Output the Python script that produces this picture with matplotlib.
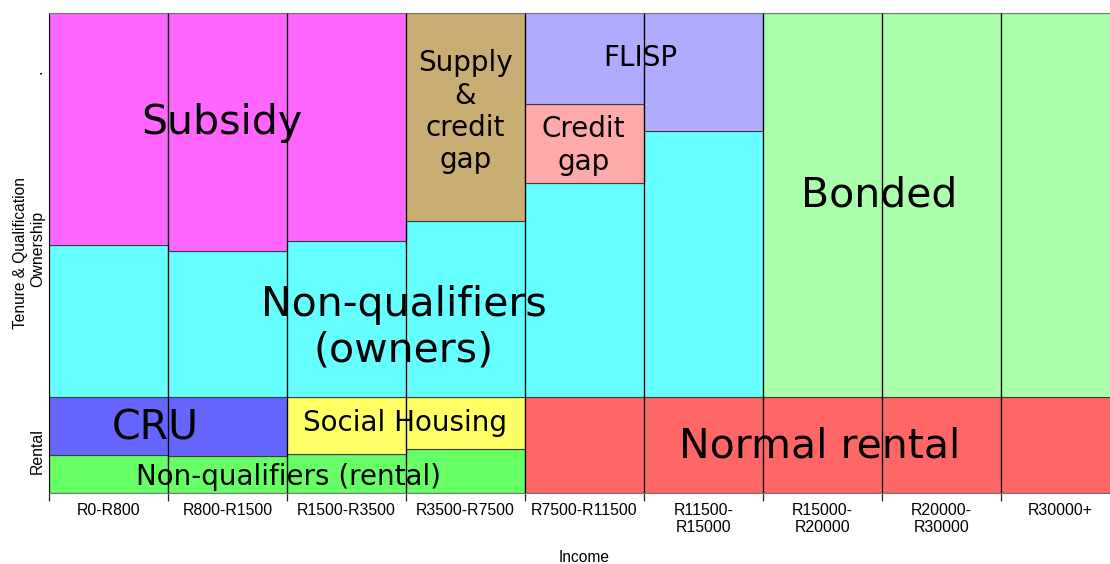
import numpy as np
import matplotlib
matplotlib.use('Agg')
import matplotlib.pyplot as plt

# income bands (columns of the mosaic)
incomes = ['R0-R800', 'R800-R1500', 'R1500-R3500', 'R3500-R7500', 'R7500-R11500',
           'R11500-\nR15000', 'R15000-\nR20000', 'R20000-\nR30000', 'R30000+']

# share of each band (% of column), stacked bottom -> top
nq_rental     = [7.9, 7.7, 8.1, 9.2, 0, 0, 0, 0, 0]
cru           = [12.1, 12.3, 0, 0, 0, 0, 0, 0, 0]
social        = [0, 0, 11.9, 10.8, 0, 0, 0, 0, 0]
normal_rental = [0, 0, 0, 0, 20, 20, 20, 20, 20]
nq_owners     = [31.7, 30.4, 32.5, 36.7, 44.6, 55.4, 0, 0, 0]
subsidy       = [48.3, 49.6, 47.5, 0, 0, 0, 0, 0, 0]
supply_gap    = [0, 0, 0, 43.3, 0, 0, 0, 0, 0]
credit_gap    = [0, 0, 0, 0, 16.5, 0, 0, 0, 0]
flisp         = [0, 0, 0, 0, 18.9, 24.6, 0, 0, 0]
bonded        = [0, 0, 0, 0, 0, 0, 80, 80, 80]

series = [nq_rental, cru, social, normal_rental, nq_owners,
          subsidy, supply_gap, credit_gap, flisp, bonded]
colours = ['#66FF66', '#6666FF', '#FFFF66', '#FF6666', '#66FFFF',
           '#FF66FF', '#C9AE74', '#FFAAAA', '#B0ABFF', '#ABFFAB']

fig = plt.figure(figsize=(11.1, 5.64), dpi=100)
ax = fig.add_axes([49 / 1110, 71 / 564, 1071 / 1110, 480 / 564])

x = np.arange(len(incomes))
bottom = np.zeros(len(incomes))
for vals, col in zip(series, colours):
    vals = np.array(vals, dtype=float)
    keep = vals > 0
    ax.bar(x[keep], vals[keep], width=1.0, bottom=bottom[keep], align='edge',
           color=col, edgecolor='#3c3c3c', linewidth=0.8, zorder=1)
    bottom += vals

ax.set_xlim(0, len(incomes))
ax.set_ylim(0, 100)

# region labels (drawn under the column dividers, like the original)
big, small = 29.5, 20
labels = [
    ('Subsidy', 1.45, 77.0, big),
    ('Non-qualifiers\n(owners)', 2.98, 34.4, big),
    ('CRU', 0.89, 13.5, big),
    ('Non-qualifiers (rental)', 2.01, 3.4, small),
    ('Social Housing', 2.99, 14.6, small),
    ('Supply\n&\ncredit\ngap', 3.5, 79.4, small),
    ('Credit\ngap', 4.49, 72.4, small),
    ('FLISP', 4.97, 90.6, small),
    ('Bonded', 6.98, 62.0, big),
    ('Normal rental', 6.48, 9.6, big),
]
for txt, lx, ly, fs in labels:
    ax.text(lx, ly, txt, ha='center', va='center', fontsize=fs,
            family='DejaVu Sans', linespacing=1.2, zorder=3)

# column dividers on top of everything
ax.vlines(x[1:], 0, 100, color='black', linewidth=0.9, zorder=5)

# x ticks: marks at boundaries, labels at centres
ax.set_xticks(np.arange(len(incomes) + 1))
ax.set_xticklabels([])
ax.tick_params(axis='x', which='major', length=6, width=0.9, color='#222222')
ax.set_xticks(x + 0.5, minor=True)
ax.set_xticklabels(incomes, minor=True, fontsize=11.4, family='Liberation Sans',
                   linespacing=1.1)
ax.tick_params(axis='x', which='minor', length=0, pad=7.5)

ax.set_yticks([8.75, 50.8, 87.7])
ax.set_yticklabels(['Rental', 'Ownership', '.'], rotation=90, va='center',
                   fontsize=11.4, family='Liberation Sans')
ax.tick_params(axis='y', length=0, pad=3)

ax.set_xlabel('Income', fontsize=11.2, family='Liberation Sans', labelpad=11)
ax.set_ylabel('Tenure & Qualification', fontsize=11.2, family='Liberation Sans',
              labelpad=1)

ax.spines['left'].set_color('black')
for s in ['top', 'bottom', 'right']:
    ax.spines[s].set_color('#777777')

fig.savefig('out.png', dpi=100)
